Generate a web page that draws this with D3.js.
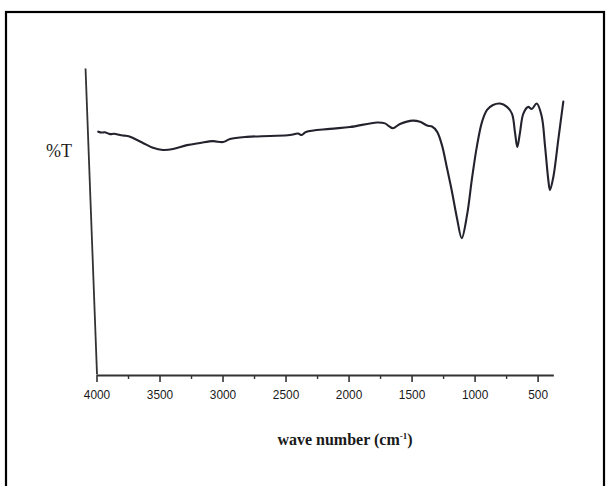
<!DOCTYPE html>
<html>
<head>
<meta charset="utf-8">
<script src="https://cdn.jsdelivr.net/npm/d3@7"></script>
<style>
  html, body { margin: 0; padding: 0; background: #fff; }
  svg { display: block; }
</style>
</head>
<body>
<svg id="chart" width="608" height="486"></svg>
<script>
// FT-IR spectrum: wavenumber (cm^-1) against transmittance (%T, arbitrary units)
const wavenumber = [
  3986, 3960, 3935, 3893, 3860, 3814, 3780, 3745, 3710, 3631, 3552, 3472, 3393,
  3282, 3179, 3076, 2996, 2941, 2806, 2623, 2465, 2401, 2372, 2338, 2148, 1989,
  1774, 1711, 1680, 1648, 1592, 1489, 1433, 1370, 1338, 1298, 1259, 1219, 1179,
  1140, 1102, 1060, 1020, 980, 941, 901, 854, 798, 743, 703, 679, 661, 640, 613,
  574, 547, 507, 468, 441, 415, 402, 375, 336, 296
];
const transmittance = [
  79.2, 78.9, 79.0, 78.4, 78.5, 78.1, 77.9, 77.7, 77.1, 75.5, 73.9, 73.2, 73.5,
  74.8, 75.5, 76.1, 75.8, 76.8, 77.5, 77.8, 78.1, 78.6, 78.1, 79.1, 80.1, 80.7,
  82.2, 81.9, 81.0, 80.3, 81.7, 82.8, 82.4, 81.1, 80.9, 79.2, 74.8, 67.3, 59.5,
  51.0, 44.4, 51.9, 64.1, 74.8, 82.4, 86.3, 87.9, 88.4, 87.3, 85.0, 78.8, 74.2,
  78.8, 85.1, 87.3, 86.6, 88.4, 84.3, 74.5, 63.4, 60.1, 64.4, 76.5, 89.0
];

const majorTicks = [4000, 3500, 3000, 2500, 2000, 1500, 1000, 500];
const minorTicks = [3750, 3250, 2750, 2250, 1750, 1250, 750];
const axisEnd = 375;

const yLabel = "%T";
const xLabel = "wave number (cm";
const xLabelSup = "-1";

const svg = d3.select("#chart");

// outer frame
svg.append("rect")
  .attr("x", 6).attr("y", 12)
  .attr("width", 598).attr("height", 490)
  .attr("fill", "none")
  .attr("stroke", "#000")
  .attr("stroke-width", 2.2);

const x = d3.scaleLinear().domain([4000, 500]).range([96.5, 537.6]);
const y = d3.scaleLinear().domain([0, 100]).range([374, 68]);

// x axis (runs a little past the last labelled tick)
const xAxisScale = x.copy().domain([4000, axisEnd]).range([x(4000), x(axisEnd)]);

const gx = svg.append("g").attr("transform", `translate(0,${y(0) + 1})`);
gx.call(d3.axisBottom(xAxisScale)
    .tickValues(majorTicks)
    .tickSizeInner(7)
    .tickSizeOuter(0)
    .tickPadding(8)
    .tickFormat(d3.format("d")));
gx.select(".domain").attr("stroke", "#333").attr("stroke-width", 1.8);
gx.selectAll(".tick line").attr("stroke", "#333").attr("stroke-width", 1.6);
gx.selectAll(".tick text")
  .attr("fill", "#1a1a1a")
  .style("font-family", "'Liberation Sans', Arial, sans-serif")
  .style("font-size", "12.5px")
  .attr("transform", "scale(0.95,1)");

const gMinor = svg.append("g").attr("transform", `translate(0,${y(0) + 1})`);
gMinor.call(d3.axisBottom(xAxisScale)
    .tickValues(minorTicks)
    .tickSizeInner(4)
    .tickSizeOuter(0)
    .tickFormat(""));
gMinor.select(".domain").remove();
gMinor.selectAll(".tick line").attr("stroke", "#333").attr("stroke-width", 1.4);

// y axis: bare line, slightly leaning
const lean = 2.15;
const gy = svg.append("g")
  .attr("transform", `translate(${x(4000)},${y(0)}) skewX(${lean}) translate(0,${-y(0)})`);
gy.call(d3.axisLeft(y).tickValues([]).tickSizeOuter(0));
gy.select(".domain").attr("stroke", "#333").attr("stroke-width", 1.8);

// spectrum trace
const line = d3.line()
  .x((d, i) => x(wavenumber[i]))
  .y(d => y(d))
  .curve(d3.curveCatmullRom.alpha(0.5));

svg.append("path")
  .datum(transmittance)
  .attr("d", line)
  .attr("fill", "none")
  .attr("stroke", "#23232e")
  .attr("stroke-width", 2.1)
  .attr("stroke-linejoin", "round")
  .attr("stroke-linecap", "round");

// axis titles
svg.append("text")
  .attr("x", 46).attr("y", 157)
  .style("font-family", "'Liberation Serif', 'Times New Roman', serif")
  .style("font-size", "18px")
  .attr("fill", "#1a1a1a")
  .text(yLabel);

const xt = svg.append("text")
  .attr("x", 345).attr("y", 445)
  .attr("text-anchor", "middle")
  .style("font-family", "'Liberation Serif', 'Times New Roman', serif")
  .style("font-size", "16px")
  .style("font-weight", "bold")
  .attr("fill", "#1a1a1a");
xt.append("tspan").text(xLabel);
xt.append("tspan").attr("dy", -6).style("font-size", "9px").text(xLabelSup);
xt.append("tspan").attr("dy", 6).text(")");
</script>
</body>
</html>
